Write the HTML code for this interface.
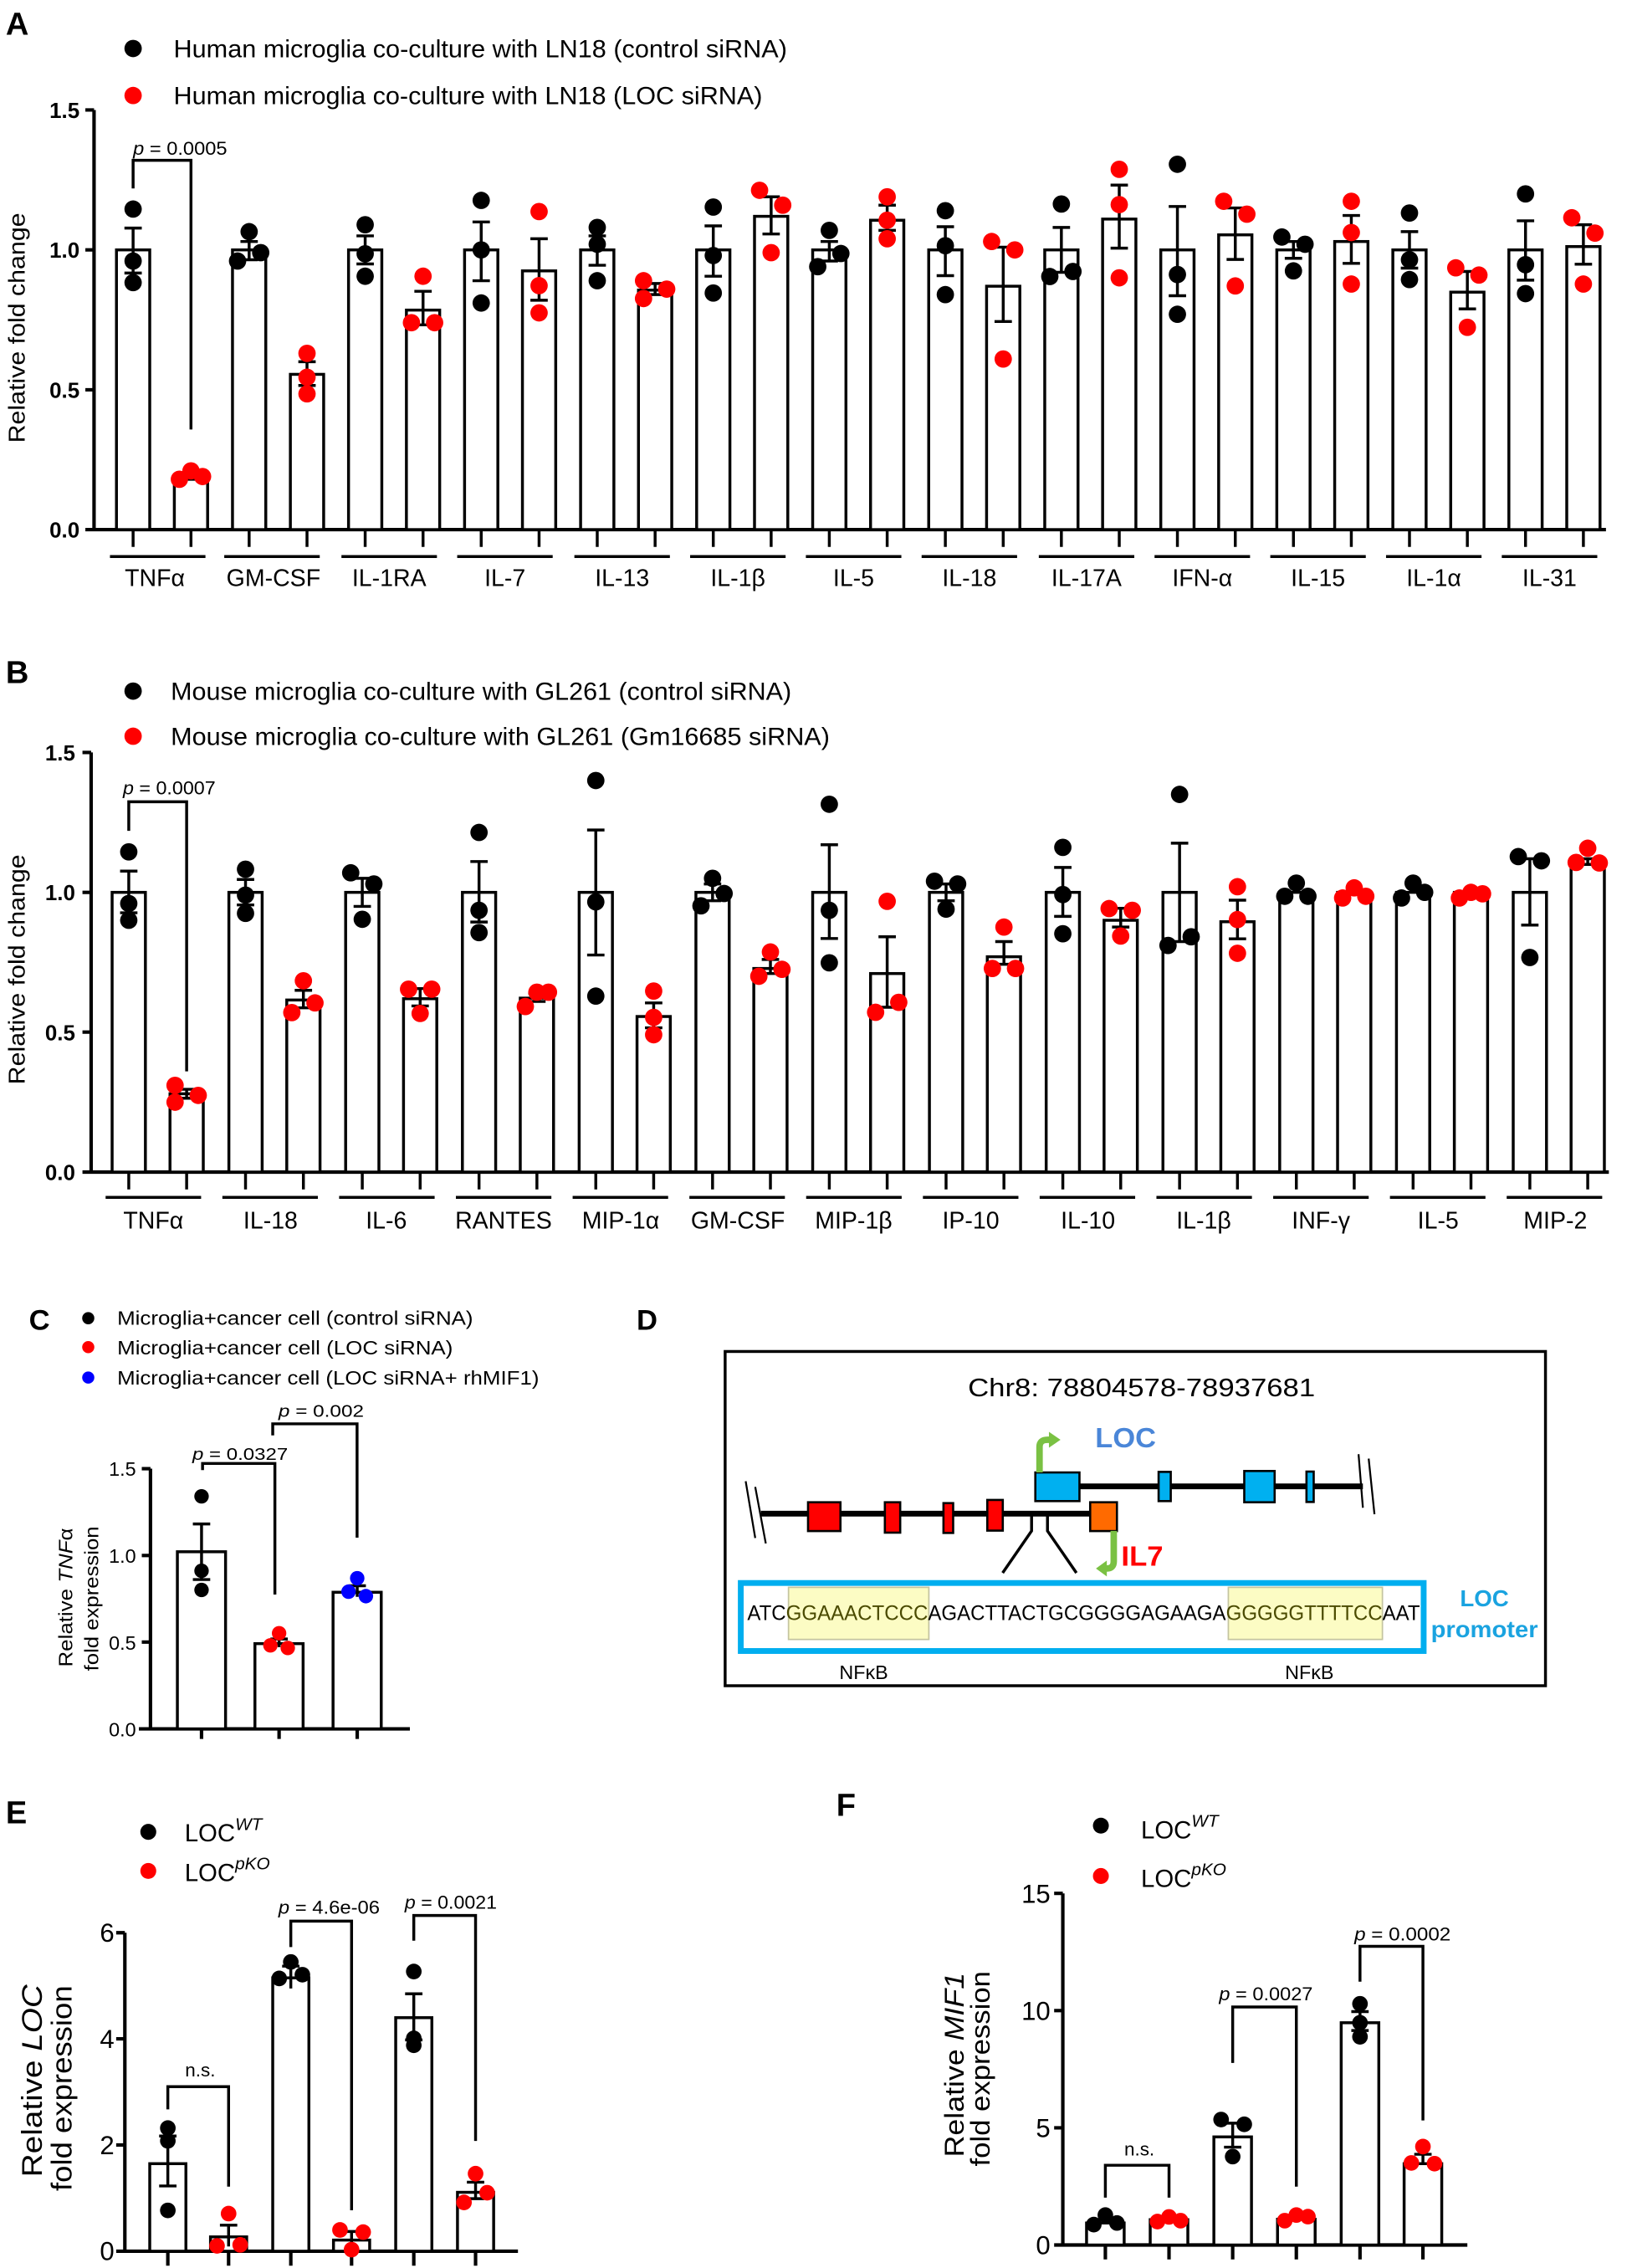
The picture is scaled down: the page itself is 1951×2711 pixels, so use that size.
<!DOCTYPE html>
<html><head><meta charset="utf-8"><style>
html,body{margin:0;padding:0;background:#fff}
svg{display:block}
text{font-family:"Liberation Sans",Arial,sans-serif;fill:#000}
.bar{fill:#fff;stroke:#000;stroke-width:2}
.er{fill:none;stroke:#000;stroke-width:2}
.ax{fill:none;stroke:#000;stroke-width:2.4}
.k{fill:#000}.r{fill:#f00}.bl{fill:#00f}
.tl{font-size:15px;font-weight:bold;text-anchor:end}
.cat{font-size:16.5px;text-anchor:middle}
.pl{font-size:13px;text-anchor:middle}
</style></head><body>
<svg width="1951" height="2711" viewBox="0 0 1128 1567.4" xmlns="http://www.w3.org/2000/svg">
<rect width="1128" height="1567.4" fill="#fff"/>

<!-- ================= A ================= -->
<text x="4" y="24" font-size="22" font-weight="bold">A</text>
<circle cx="92" cy="33.5" r="6" class="k"/>
<text x="120" y="39.5" font-size="17" textLength="424" lengthAdjust="spacingAndGlyphs">Human microglia co-culture with LN18 (control siRNA)</text>
<circle cx="92" cy="66" r="6" class="r"/>
<text x="120" y="72" font-size="17" textLength="407" lengthAdjust="spacingAndGlyphs">Human microglia co-culture with LN18 (LOC siRNA)</text>
<text transform="translate(17,226.6) rotate(-90)" font-size="16" text-anchor="middle" textLength="159" lengthAdjust="spacingAndGlyphs">Relative fold change</text>
<path class="ax" d="M65 76V366H1110M59 76H65M59 172.7H65M59 269.4H65M59 366H65"/>
<text class="tl" x="55" y="81.5">1.5</text><text class="tl" x="55" y="178">1.0</text><text class="tl" x="55" y="275">0.5</text><text class="tl" x="55" y="371.5">0.0</text>
<path class="er" d="M92 366v12M132 366v12M172.2 366v12M212.2 366v12M252.4 366v12M292.4 366v12M332.6 366v12M372.6 366v12M412.8 366v12M452.8 366v12M493 366v12M533 366v12M573.2 366v12M613.2 366v12M653.4 366v12M693.4 366v12M733.6 366v12M773.6 366v12M813.8 366v12M853.8 366v12M894 366v12M934 366v12M974.2 366v12M1014.2 366v12M1054.4 366v12M1094.4 366v12"/>
<g class="bar">
<rect x="80.5" y="172.7" width="23" height="193.3"/><rect x="120.5" y="329.3" width="23" height="36.7"/>
<rect x="160.7" y="172.7" width="23" height="193.3"/><rect x="200.7" y="258.7" width="23" height="107.3"/>
<rect x="240.9" y="172.7" width="23" height="193.3"/><rect x="280.9" y="214.3" width="23" height="151.7"/>
<rect x="321.1" y="172.7" width="23" height="193.3"/><rect x="361.1" y="187.2" width="23" height="178.8"/>
<rect x="401.3" y="172.7" width="23" height="193.3"/><rect x="441.3" y="200.5" width="23" height="165.5"/>
<rect x="481.5" y="172.7" width="23" height="193.3"/><rect x="521.5" y="149.5" width="23" height="216.5"/>
<rect x="561.7" y="172.7" width="23" height="193.3"/><rect x="601.7" y="152.2" width="23" height="213.8"/>
<rect x="641.9" y="172.7" width="23" height="193.3"/><rect x="681.9" y="197.8" width="23" height="168.2"/>
<rect x="722.1" y="172.7" width="23" height="193.3"/><rect x="762.1" y="151.4" width="23" height="214.6"/>
<rect x="802.3" y="172.7" width="23" height="193.3"/><rect x="842.3" y="162.3" width="23" height="203.7"/>
<rect x="882.5" y="172.7" width="23" height="193.3"/><rect x="922.5" y="166.9" width="23" height="199.1"/>
<rect x="962.7" y="172.7" width="23" height="193.3"/><rect x="1002.7" y="201.9" width="23" height="164.1"/>
<rect x="1042.9" y="172.7" width="23" height="193.3"/><rect x="1082.9" y="170.4" width="23" height="195.6"/>
</g>
<path class="er" d="M92 157.6V188.7M86 157.6h12M86 188.7h12
M132 327.3V331.2M126 327.3h12M126 331.2h12
M172.2 166.9V179.5M166.2 166.9h12M166.2 179.5h12
M212.2 250V266.4M206.2 250h12M206.2 266.4h12
M252.4 163V182.4M246.4 163h12M246.4 182.4h12
M292.4 201.3V224.5M286.4 201.3h12M286.4 224.5h12
M332.6 153.4V194M326.6 153.4h12M326.6 194h12
M372.6 165V207.5M366.6 165h12M366.6 207.5h12
M412.8 163V183.3M406.8 163h12M406.8 183.3h12
M452.8 195.9V203.6M446.8 195.9h12M446.8 203.6h12
M493 156.1V190.9M487 156.1h12M487 190.9h12
M533 136V161.7M527 136h12M527 161.7h12
M573.2 166.9V180.4M567.2 166.9h12M567.2 180.4h12
M613.2 141.8V159.2M607.2 141.8h12M607.2 159.2h12
M653.4 156.7V190.5M647.4 156.7h12M647.4 190.5h12
M693.4 170.8V222.2M687.4 170.8h12M687.4 222.2h12
M733.6 157.2V188.2M727.6 157.2h12M727.6 188.2h12
M773.6 127.9V171.5M767.6 127.9h12M767.6 171.5h12
M813.8 142.7V204.4M807.8 142.7h12M807.8 204.4h12
M853.8 143.7V179.3M847.8 143.7h12M847.8 179.3h12
M894 166.9V178.5M888 166.9h12M888 178.5h12
M934 148.9V182M928 148.9h12M928 182h12
M974.2 160.1V185.3M968.2 160.1h12M968.2 185.3h12
M1014.2 187.6V213.5M1008.2 187.6h12M1008.2 213.5h12
M1054.4 152.6V193.6M1048.4 152.6h12M1048.4 193.6h12
M1094.4 155.3V182.6M1088.4 155.3h12M1088.4 182.6h12"/>
<g class="k">
<circle cx="92" cy="144.5" r="6"/><circle cx="92" cy="180.4" r="6"/><circle cx="92" cy="195.3" r="6"/>
<circle cx="164.2" cy="180.4" r="6"/><circle cx="172.2" cy="160.1" r="6"/><circle cx="180.2" cy="174.6" r="6"/>
<circle cx="252.4" cy="155.3" r="6"/><circle cx="252.4" cy="175.4" r="6"/><circle cx="252.4" cy="190.9" r="6"/>
<circle cx="332.6" cy="138.5" r="6"/><circle cx="332.6" cy="172.7" r="6"/><circle cx="332.6" cy="209.4" r="6"/>
<circle cx="412.8" cy="157.2" r="6"/><circle cx="412.8" cy="168.8" r="6"/><circle cx="412.8" cy="194" r="6"/>
<circle cx="493" cy="143.1" r="6"/><circle cx="493" cy="176.6" r="6"/><circle cx="493" cy="202.5" r="6"/>
<circle cx="573.2" cy="159.2" r="6"/><circle cx="581.2" cy="175.2" r="6"/><circle cx="565.2" cy="184.3" r="6"/>
<circle cx="653.4" cy="145.6" r="6"/><circle cx="653.4" cy="169.8" r="6"/><circle cx="653.4" cy="203.6" r="6"/>
<circle cx="733.6" cy="141" r="6"/><circle cx="725.6" cy="191.1" r="6"/><circle cx="741.6" cy="187.6" r="6"/>
<circle cx="813.8" cy="113.5" r="6"/><circle cx="813.8" cy="189.7" r="6"/><circle cx="813.8" cy="217.2" r="6"/>
<circle cx="886" cy="163.8" r="6"/><circle cx="902" cy="168.8" r="6"/><circle cx="894" cy="187.2" r="6"/>
<circle cx="974.2" cy="147.2" r="6"/><circle cx="974.2" cy="179.5" r="6"/><circle cx="974.2" cy="193.2" r="6"/>
<circle cx="1054.4" cy="134" r="6"/><circle cx="1054.4" cy="182.9" r="6"/><circle cx="1054.4" cy="202.9" r="6"/>
</g>
<g class="r">
<circle cx="124" cy="331.2" r="6"/><circle cx="132" cy="325.4" r="6"/><circle cx="140" cy="329.3" r="6"/>
<circle cx="212.2" cy="244.2" r="6"/><circle cx="212.2" cy="260.7" r="6"/><circle cx="212.2" cy="272.2" r="6"/>
<circle cx="292.4" cy="190.9" r="6"/><circle cx="284.4" cy="223" r="6"/><circle cx="300.4" cy="223" r="6"/>
<circle cx="372.6" cy="146.2" r="6"/><circle cx="372.6" cy="197.4" r="6"/><circle cx="372.6" cy="216.2" r="6"/>
<circle cx="444.8" cy="194" r="6"/><circle cx="444.8" cy="206.3" r="6"/><circle cx="460.8" cy="199.8" r="6"/>
<circle cx="525" cy="131.5" r="6"/><circle cx="541" cy="141.8" r="6"/><circle cx="533" cy="174.6" r="6"/>
<circle cx="613.2" cy="136" r="6"/><circle cx="613.2" cy="152.2" r="6"/><circle cx="613.2" cy="165" r="6"/>
<circle cx="685.4" cy="166.9" r="6"/><circle cx="701.4" cy="172.7" r="6"/><circle cx="693.4" cy="248.1" r="6"/>
<circle cx="773.6" cy="117" r="6"/><circle cx="773.6" cy="141.4" r="6"/><circle cx="773.6" cy="192" r="6"/>
<circle cx="845.8" cy="139.1" r="6"/><circle cx="861.8" cy="148" r="6"/><circle cx="853.8" cy="197.6" r="6"/>
<circle cx="934" cy="139.1" r="6"/><circle cx="934" cy="160.7" r="6"/><circle cx="934" cy="196.3" r="6"/>
<circle cx="1006.2" cy="185.1" r="6"/><circle cx="1022.2" cy="190.1" r="6"/><circle cx="1014.2" cy="226.2" r="6"/>
<circle cx="1086.4" cy="150.5" r="6"/><circle cx="1102.4" cy="161.1" r="6"/><circle cx="1094.4" cy="196.3" r="6"/>
</g>
<path class="er" stroke-width="1.6" d="M92 130.2V110.8H132V296.8"/>
<text class="pl" x="124.5" y="107" textLength="65" lengthAdjust="spacingAndGlyphs"><tspan font-style="italic">p</tspan> = 0.0005</text>
<path class="er" stroke-width="2.2" d="M76 384.6H142M155 384.6H221M236 384.6H302M316 384.6H382M397 384.6H463M477 384.6H543M557 384.6H623M637 384.6H703M718 384.6H784M798 384.6H864M878 384.6H944M958 384.6H1024M1038 384.6H1104"/>
<g class="cat">
<text x="107" y="405">TNFα</text><text x="189" y="405">GM-CSF</text><text x="269" y="405">IL-1RA</text><text x="349" y="405">IL-7</text><text x="430" y="405">IL-13</text><text x="510" y="405">IL-1β</text><text x="590" y="405">IL-5</text><text x="670" y="405">IL-18</text><text x="751" y="405">IL-17A</text><text x="831" y="405">IFN-α</text><text x="911" y="405">IL-15</text><text x="991" y="405">IL-1α</text><text x="1071" y="405">IL-31</text>
</g>

<!-- ================= B ================= -->
<text x="4" y="472" font-size="22" font-weight="bold">B</text>
<circle cx="92" cy="477.6" r="6" class="k"/>
<text x="118" y="483.5" font-size="17" textLength="429" lengthAdjust="spacingAndGlyphs">Mouse microglia co-culture with GL261 (control siRNA)</text>
<circle cx="92" cy="508.8" r="6" class="r"/>
<text x="118" y="515" font-size="17" textLength="455.5" lengthAdjust="spacingAndGlyphs">Mouse microglia co-culture with GL261 (Gm16685 siRNA)</text>
<text transform="translate(17,670) rotate(-90)" font-size="16" text-anchor="middle" textLength="159" lengthAdjust="spacingAndGlyphs">Relative fold change</text>
<path class="ax" d="M63 520V810H1112M57 520H63M57 616.7H63M57 713.3H63M57 810H63"/>
<text class="tl" x="52" y="525.5">1.5</text><text class="tl" x="52" y="622">1.0</text><text class="tl" x="52" y="719">0.5</text><text class="tl" x="52" y="815.5">0.0</text>
<path class="er" d="M89 810v12M129 810v12M169.7 810v12M209.7 810v12M250.4 810v12M290.4 810v12M331.1 810v12M371.1 810v12M411.8 810v12M451.8 810v12M492.5 810v12M532.5 810v12M573.2 810v12M613.2 810v12M653.9 810v12M693.9 810v12M734.6 810v12M774.6 810v12M815.3 810v12M855.3 810v12M896 810v12M936 810v12M976.7 810v12M1016.7 810v12M1057.4 810v12M1097.4 810v12"/>
<g class="bar">
<rect x="77.5" y="616.7" width="23" height="193.3"/><rect x="117.5" y="755.9" width="23" height="54.1"/>
<rect x="158.2" y="616.7" width="23" height="193.3"/><rect x="198.2" y="691.1" width="23" height="118.9"/>
<rect x="238.9" y="616.7" width="23" height="193.3"/><rect x="278.9" y="690.2" width="23" height="119.8"/>
<rect x="319.6" y="616.7" width="23" height="193.3"/><rect x="359.6" y="689.8" width="23" height="120.2"/>
<rect x="400.3" y="616.7" width="23" height="193.3"/><rect x="440.3" y="702.5" width="23" height="107.5"/>
<rect x="481" y="616.7" width="23" height="193.3"/><rect x="521" y="669.3" width="23" height="140.7"/>
<rect x="561.7" y="616.7" width="23" height="193.3"/><rect x="601.7" y="672.8" width="23" height="137.2"/>
<rect x="642.4" y="616.7" width="23" height="193.3"/><rect x="682.4" y="661.2" width="23" height="148.8"/>
<rect x="723.1" y="616.7" width="23" height="193.3"/><rect x="763.1" y="636" width="23" height="174"/>
<rect x="803.8" y="616.7" width="23" height="193.3"/><rect x="843.8" y="637" width="23" height="173"/>
<rect x="884.5" y="616.7" width="23" height="193.3"/><rect x="924.5" y="616.7" width="23" height="193.3"/>
<rect x="965.2" y="616.7" width="23" height="193.3"/><rect x="1005.2" y="616.7" width="23" height="193.3"/>
<rect x="1045.9" y="616.7" width="23" height="193.3"/><rect x="1085.9" y="597.4" width="23" height="212.6"/>
</g>
<path class="er" d="M89 602V630.8M83 602h12M83 630.8h12
M129 752.8V759M123 752.8h12M123 759h12
M169.7 607.8V625.4M163.7 607.8h12M163.7 625.4h12
M209.7 684.4V696.5M203.7 684.4h12M203.7 696.5h12
M250.4 607V626.4M244.4 607h12M244.4 626.4h12
M290.4 683.2V695.2M284.4 683.2h12M284.4 695.2h12
M331.1 595.4V637.2M325.1 595.4h12M325.1 637.2h12
M371.1 686.3V692.1M365.1 686.3h12M365.1 692.1h12
M411.8 573.6V660M405.8 573.6h12M405.8 660h12
M451.8 693.1V710.3M445.8 693.1h12M445.8 710.3h12
M492.5 610.9V622.5M486.5 610.9h12M486.5 622.5h12
M532.5 663.1V672.8M526.5 663.1h12M526.5 672.8h12
M573.2 583.8V648.6M567.2 583.8h12M567.2 648.6h12
M613.2 647.4V696.1M607.2 647.4h12M607.2 696.1h12
M653.9 610.9V622.5M647.9 610.9h12M647.9 622.5h12
M693.9 650.7V666.4M687.9 650.7h12M687.9 666.4h12
M734.6 599.5V633.3M728.6 599.5h12M728.6 633.3h12
M774.6 627.7V640.7M768.6 627.7h12M768.6 640.7h12
M815.3 582.7V650.7M809.3 582.7h12M809.3 650.7h12
M855.3 622.1V648.8M849.3 622.1h12M849.3 648.8h12
M1057.4 593.5V639.3M1051.4 593.5h12M1051.4 639.3h12
M1097.4 593.5V597.4M1091.4 593.5h12"/>
<g class="k">
<circle cx="89" cy="588.7" r="6"/><circle cx="89" cy="624.4" r="6"/><circle cx="89" cy="636" r="6"/>
<circle cx="169.7" cy="600.7" r="6"/><circle cx="169.7" cy="618.6" r="6"/><circle cx="169.7" cy="631.2" r="6"/>
<circle cx="242.4" cy="603.2" r="6"/><circle cx="258.4" cy="610.9" r="6"/><circle cx="250.4" cy="635.3" r="6"/>
<circle cx="331.1" cy="575.3" r="6"/><circle cx="331.1" cy="629.1" r="6"/><circle cx="331.1" cy="644.5" r="6"/>
<circle cx="411.8" cy="539.4" r="6"/><circle cx="411.8" cy="623.3" r="6"/><circle cx="411.8" cy="688.4" r="6"/>
<circle cx="484.5" cy="626" r="6"/><circle cx="492.5" cy="607" r="6"/><circle cx="500.5" cy="617.5" r="6"/>
<circle cx="573.2" cy="555.8" r="6"/><circle cx="573.2" cy="629.1" r="6"/><circle cx="573.2" cy="665.4" r="6"/>
<circle cx="645.9" cy="609" r="6"/><circle cx="661.9" cy="610.9" r="6"/><circle cx="653.9" cy="628.3" r="6"/>
<circle cx="734.6" cy="585.6" r="6"/><circle cx="734.6" cy="618.2" r="6"/><circle cx="734.6" cy="645.3" r="6"/>
<circle cx="815.3" cy="549" r="6"/><circle cx="807.3" cy="653.4" r="6"/><circle cx="823.3" cy="647.4" r="6"/>
<circle cx="888" cy="619.4" r="6"/><circle cx="896" cy="610.3" r="6"/><circle cx="904" cy="619.4" r="6"/>
<circle cx="968.7" cy="620.6" r="6"/><circle cx="976.7" cy="610.3" r="6"/><circle cx="984.7" cy="616.7" r="6"/>
<circle cx="1049.4" cy="592" r="6"/><circle cx="1065.4" cy="594.9" r="6"/><circle cx="1057.4" cy="661.7" r="6"/>
</g>
<g class="r">
<circle cx="121" cy="750.1" r="6"/><circle cx="121" cy="761.7" r="6"/><circle cx="137" cy="757" r="6"/>
<circle cx="209.7" cy="677.8" r="6"/><circle cx="201.7" cy="699.8" r="6"/><circle cx="217.7" cy="693.1" r="6"/>
<circle cx="282.4" cy="683.6" r="6"/><circle cx="298.4" cy="683.6" r="6"/><circle cx="290.4" cy="700.4" r="6"/>
<circle cx="363.1" cy="695.6" r="6"/><circle cx="371.1" cy="685.7" r="6"/><circle cx="379.1" cy="685.7" r="6"/>
<circle cx="451.8" cy="684.9" r="6"/><circle cx="451.8" cy="703.1" r="6"/><circle cx="451.8" cy="715.1" r="6"/>
<circle cx="532.5" cy="657.9" r="6"/><circle cx="524.5" cy="674.7" r="6"/><circle cx="540.5" cy="669.9" r="6"/>
<circle cx="613.2" cy="622.9" r="6"/><circle cx="621.2" cy="692.7" r="6"/><circle cx="605.2" cy="699.6" r="6"/>
<circle cx="693.9" cy="640.7" r="6"/><circle cx="685.9" cy="669.3" r="6"/><circle cx="701.9" cy="669.3" r="6"/>
<circle cx="766.6" cy="627.9" r="6"/><circle cx="782.6" cy="629.1" r="6"/><circle cx="774.6" cy="646.9" r="6"/>
<circle cx="855.3" cy="612.8" r="6"/><circle cx="855.3" cy="635.5" r="6"/><circle cx="855.3" cy="658.8" r="6"/>
<circle cx="928" cy="620.6" r="6"/><circle cx="936" cy="613.6" r="6"/><circle cx="944" cy="619.4" r="6"/>
<circle cx="1008.7" cy="620.6" r="6"/><circle cx="1016.7" cy="616.7" r="6"/><circle cx="1024.7" cy="617.7" r="6"/>
<circle cx="1097.4" cy="586.2" r="6"/><circle cx="1089.4" cy="596" r="6"/><circle cx="1105.4" cy="596.4" r="6"/>
</g>
<path class="er" stroke-width="1.6" d="M89 574.2V554.1H129V740.4"/>
<text class="pl" x="117" y="549" textLength="64" lengthAdjust="spacingAndGlyphs"><tspan font-style="italic">p</tspan> = 0.0007</text>
<path class="er" stroke-width="2.2" d="M73 827.5H139M153.7 827.5H219.7M234.4 827.5H300.4M315.1 827.5H381.1M395.8 827.5H461.8M476.5 827.5H542.5M557.2 827.5H623.2M637.9 827.5H703.9M718.6 827.5H784.6M799.3 827.5H865.3M880 827.5H946M960.7 827.5H1026.7M1041.4 827.5H1107.4"/>
<g class="cat">
<text x="106" y="849">TNFα</text><text x="187" y="849">IL-18</text><text x="267" y="849">IL-6</text><text x="348" y="849">RANTES</text><text x="429" y="849">MIP-1α</text><text x="510" y="849">GM-CSF</text><text x="590" y="849">MIP-1β</text><text x="671" y="849">IP-10</text><text x="752" y="849">IL-10</text><text x="832" y="849">IL-1β</text><text x="913" y="849">INF-γ</text><text x="994" y="849">IL-5</text><text x="1075" y="849">MIP-2</text>
</g>

<!-- ================= C ================= -->
<text x="20" y="919" font-size="20" font-weight="bold">C</text>
<circle cx="61" cy="911" r="4.2" class="k"/>
<text x="81" y="915.5" font-size="13.5" textLength="246" lengthAdjust="spacingAndGlyphs">Microglia+cancer cell (control siRNA)</text>
<circle cx="61" cy="931" r="4.2" class="r"/>
<text x="81" y="936" font-size="13.5" textLength="232" lengthAdjust="spacingAndGlyphs">Microglia+cancer cell (LOC siRNA)</text>
<circle cx="61" cy="952" r="4.2" class="bl"/>
<text x="81" y="957" font-size="13.5" textLength="291.6" lengthAdjust="spacingAndGlyphs">Microglia+cancer cell (LOC siRNA+ rhMIF1)</text>
<text transform="translate(50,1104) rotate(-90)" font-size="13.5" text-anchor="middle" textLength="96" lengthAdjust="spacingAndGlyphs">Relative <tspan font-style="italic">TNF</tspan>α</text>
<text transform="translate(68,1104.8) rotate(-90)" font-size="13.5" text-anchor="middle" textLength="100" lengthAdjust="spacingAndGlyphs">fold expression</text>
<path class="ax" stroke-width="2" d="M104 1015V1194.8H283.3M98 1015H104M98 1075H104M98 1134.8H104M96 1194.8H104M139.3 1194.8v7M192.9 1194.8v7M246.9 1194.8v7"/>
<g font-size="13.5" text-anchor="end"><text x="94" y="1020">1.5</text><text x="94" y="1080">1.0</text><text x="94" y="1140">0.5</text><text x="94" y="1200">0.0</text></g>
<g class="bar"><rect x="122.6" y="1072.4" width="33.3" height="122.4"/><rect x="176.2" y="1135.9" width="33.3" height="58.9"/><rect x="230.2" y="1100.4" width="33.3" height="94.4"/></g>
<path class="er" d="M139.3 1053.2V1091.6M133.3 1053.2h12M133.3 1091.6h12M192.9 1132.7V1138.3M186.9 1132.7h12M246.9 1095.9V1103.6M240.9 1095.9h12"/>
<g class="k"><circle cx="139.3" cy="1034.1" r="5"/><circle cx="139.3" cy="1085.6" r="5"/><circle cx="139.3" cy="1098.8" r="5"/></g>
<g class="r"><circle cx="192.9" cy="1128.7" r="5"/><circle cx="186.9" cy="1137.1" r="5"/><circle cx="198.9" cy="1138.9" r="5"/></g>
<g class="bl"><circle cx="246.9" cy="1090.7" r="5"/><circle cx="240.9" cy="1100" r="5"/><circle cx="252.9" cy="1103.1" r="5"/></g>
<path class="er" stroke-width="1.6" d="M140 1016V1011.4H190V1102M188.5 992V984H246.8V1062.7"/>
<text x="166" y="1009" font-size="11.5" text-anchor="middle" textLength="66" lengthAdjust="spacingAndGlyphs"><tspan font-style="italic">p</tspan> = 0.0327</text>
<text x="222" y="979" font-size="11.5" text-anchor="middle" textLength="59" lengthAdjust="spacingAndGlyphs"><tspan font-style="italic">p</tspan> = 0.002</text>

<!-- ================= D ================= -->
<text x="440" y="919" font-size="20" font-weight="bold">D</text>
<rect x="501.2" y="934" width="567" height="231" fill="none" stroke="#000" stroke-width="2"/>
<text x="789" y="965" font-size="17.5" text-anchor="middle" textLength="240" lengthAdjust="spacingAndGlyphs">Chr8: 78804578-78937681</text>
<path d="M526 1046.1H754" stroke="#000" stroke-width="4"/>
<path d="M746 1027.2H942" stroke="#000" stroke-width="4"/>
<g stroke="#000" stroke-width="1.5">
<rect x="558.5" y="1038.2" width="22.4" height="19.9" fill="#f00"/>
<rect x="611.6" y="1038.2" width="10.6" height="21" fill="#f00"/>
<rect x="652.1" y="1038.8" width="6.7" height="20.6" fill="#f00"/>
<rect x="682.4" y="1036.6" width="10.7" height="21.2" fill="#f00"/>
<rect x="753.5" y="1038.2" width="18.5" height="19.9" fill="#ff6a00"/>
<rect x="715.6" y="1017.6" width="30.5" height="19.8" fill="#00b0f0"/>
<rect x="800.8" y="1017.2" width="8.4" height="20.2" fill="#00b0f0"/>
<rect x="860" y="1016.6" width="21" height="21.6" fill="#00b0f0"/>
<rect x="903" y="1017" width="5" height="21" fill="#00b0f0"/>
</g>
<path d="M515.4 1023.7L522 1062.9M522 1027.6L529.3 1066.7M939 1005L942 1042M946 1008L950 1046.5" stroke="#000" stroke-width="1.3"/>
<path d="M713 1047V1058L693 1087M724 1047V1058L744 1087" fill="none" stroke="#000" stroke-width="2"/>
<path d="M718.5 1017.6V1000Q718.5 995 724 995H727" fill="none" stroke="#7ac143" stroke-width="4.5"/>
<path d="M725 989.5L733 995L725 1000.5Z" fill="#7ac143"/>
<path d="M769.8 1058V1079Q769.8 1084 765 1084H763" fill="none" stroke="#7ac143" stroke-width="4.5"/>
<path d="M765 1078.5L757.5 1084L765 1089.5Z" fill="#7ac143"/>
<text x="757" y="1000.2" font-size="19.5" font-weight="bold" fill="#4a86d8" style="fill:#4a86d8" textLength="42" lengthAdjust="spacingAndGlyphs">LOC</text>
<text x="775" y="1082.1" font-size="19.5" font-weight="bold" style="fill:#f00" textLength="29" lengthAdjust="spacingAndGlyphs">IL7</text>
<rect x="512" y="1094" width="472" height="47" fill="none" stroke="#00aeef" stroke-width="4"/>
<rect x="545" y="1097" width="97" height="36" fill="#fcfcc4" stroke="#c4c4a0" stroke-width="1"/>
<rect x="849" y="1097" width="106.5" height="36" fill="#fcfcc4" stroke="#c4c4a0" stroke-width="1"/>
<text x="516.5" y="1119.7" font-size="14.7" textLength="465" lengthAdjust="spacingAndGlyphs">ATC<tspan style="fill:#4a4a00">GGAAACTCCC</tspan>AGACTTACTGCGGGGAGAAGA<tspan style="fill:#4a4a00">GGGGGTTTTCC</tspan>AAT</text>
<text x="1026" y="1110" font-size="16" font-weight="bold" text-anchor="middle" style="fill:#1aa3e0">LOC</text>
<text x="1026" y="1131.5" font-size="16" font-weight="bold" text-anchor="middle" style="fill:#1aa3e0" textLength="74" lengthAdjust="spacingAndGlyphs">promoter</text>
<text x="597" y="1160.5" font-size="13.5" text-anchor="middle">NFκB</text>
<text x="905" y="1160.5" font-size="13.5" text-anchor="middle">NFκB</text>

<!-- ================= E ================= -->
<text x="4" y="1260" font-size="22" font-weight="bold">E</text>
<circle cx="102.5" cy="1266" r="5.5" class="k"/>
<text x="127.6" y="1272.6" font-size="17">LOC<tspan font-size="12" font-style="italic" dy="-8">WT</tspan></text>
<circle cx="102.5" cy="1293" r="5.5" class="r"/>
<text x="127.6" y="1300" font-size="17">LOC<tspan font-size="12" font-style="italic" dy="-8">pKO</tspan></text>
<text transform="translate(29,1438) rotate(-90)" font-size="20" text-anchor="middle" textLength="133" lengthAdjust="spacingAndGlyphs">Relative <tspan font-style="italic">LOC</tspan></text>
<text transform="translate(49.5,1443.2) rotate(-90)" font-size="20" text-anchor="middle" textLength="142" lengthAdjust="spacingAndGlyphs">fold expression</text>
<path class="ax" stroke-width="2" d="M86.3 1335.7V1555.8H358M80.3 1335.7H86.3M80.3 1409H86.3M80.3 1482.4H86.3M80.3 1555.8H86.3M116 1555.8v10M158 1555.8v10M201 1555.8v10M243 1555.8v10M286 1555.8v10M328.7 1555.8v10"/>
<g font-size="18" text-anchor="end"><text x="79" y="1342">6</text><text x="79" y="1415.3">4</text><text x="79" y="1488.7">2</text><text x="79" y="1562">0</text></g>
<g class="bar"><rect x="103.5" y="1495.3" width="25" height="60.5"/><rect x="145.5" y="1545.9" width="25" height="9.9"/><rect x="188.5" y="1366.9" width="25" height="188.9"/><rect x="230.5" y="1548.1" width="25" height="7.7"/><rect x="273.5" y="1394.4" width="25" height="161.4"/><rect x="316.2" y="1515.1" width="25" height="40.7"/></g>
<path class="er" d="M116 1476.2V1510.7M110 1476.2h12M110 1510.7h12M158 1537.8V1552.5M152 1537.8h12M201 1358.8V1374.2M195 1358.8h12M243 1542.2V1550.3M237 1542.2h12M286 1377.9V1409.8M280 1377.9h12M280 1409.8h12M328.7 1508.1V1519.5M322.7 1508.1h12M322.7 1519.5h12"/>
<g class="k"><circle cx="116" cy="1470.7" r="5.4"/><circle cx="116" cy="1479.5" r="5.4"/><circle cx="116" cy="1527.6" r="5.4"/><circle cx="201" cy="1355.9" r="5.4"/><circle cx="193" cy="1367.3" r="5.4"/><circle cx="209" cy="1364.7" r="5.4"/><circle cx="286" cy="1362.5" r="5.4"/><circle cx="286" cy="1408.7" r="5.4"/><circle cx="286" cy="1413.5" r="5.4"/></g>
<g class="r"><circle cx="158" cy="1529.8" r="5.4"/><circle cx="150" cy="1552.1" r="5.4"/><circle cx="166" cy="1551.4" r="5.4"/><circle cx="235" cy="1541.1" r="5.4"/><circle cx="251" cy="1542.6" r="5.4"/><circle cx="243" cy="1554.7" r="5.4"/><circle cx="328.7" cy="1502.2" r="5.4"/><circle cx="336.7" cy="1515.4" r="5.4"/><circle cx="320.7" cy="1522.1" r="5.4"/></g>
<path class="er" stroke-width="1.6" d="M116 1457.8V1442.1H158V1511.2M201 1345.6V1327.7H243V1527.5M286 1341.2V1323.8H328.7V1479.6"/>
<text x="138.4" y="1435" font-size="13" text-anchor="middle">n.s.</text>
<text x="227.5" y="1322.5" font-size="13" text-anchor="middle" textLength="70" lengthAdjust="spacingAndGlyphs"><tspan font-style="italic">p</tspan> = 4.6e-06</text>
<text x="311.6" y="1319" font-size="13" text-anchor="middle" textLength="63.6" lengthAdjust="spacingAndGlyphs"><tspan font-style="italic">p</tspan> = 0.0021</text>

<!-- ================= F ================= -->
<text x="578" y="1255" font-size="22" font-weight="bold">F</text>
<circle cx="760.9" cy="1261.7" r="5.5" class="k"/>
<text x="788.6" y="1270.4" font-size="17">LOC<tspan font-size="12" font-style="italic" dy="-8">WT</tspan></text>
<circle cx="760.9" cy="1296.5" r="5.5" class="r"/>
<text x="788.6" y="1304.1" font-size="17">LOC<tspan font-size="12" font-style="italic" dy="-8">pKO</tspan></text>
<text transform="translate(666,1427) rotate(-90)" font-size="19" text-anchor="middle" textLength="127.5" lengthAdjust="spacingAndGlyphs">Relative <tspan font-style="italic">MIF1</tspan></text>
<text transform="translate(684,1429.7) rotate(-90)" font-size="19" text-anchor="middle" textLength="135" lengthAdjust="spacingAndGlyphs">fold expression</text>
<path class="ax" stroke-width="2" d="M734.6 1308.5V1551.5H1014.2M728.6 1308.5H734.6M728.6 1389.5H734.6M728.6 1470.5H734.6M728.6 1551.5H734.6M764 1551.5v10M808 1551.5v10M852 1551.5v10M896 1551.5v10M940 1551.5v10M983.5 1551.5v10"/>
<g font-size="18" text-anchor="end"><text x="726" y="1315">15</text><text x="726" y="1396">10</text><text x="726" y="1477">5</text><text x="726" y="1558">0</text></g>
<g class="bar"><rect x="751" y="1536.3" width="26" height="15.2"/><rect x="795" y="1534" width="26" height="17.5"/><rect x="839" y="1476.8" width="26" height="74.7"/><rect x="883" y="1533.7" width="26" height="17.8"/><rect x="927" y="1397.9" width="26" height="153.6"/><rect x="970.5" y="1495.3" width="26" height="56.2"/></g>
<path class="er" d="M852 1467.3V1483.9M846 1467.3h12M846 1483.9h12M940 1390.2V1403.3M934 1390.2h12M934 1403.3h12M983.5 1488.8V1495.9M977.5 1488.8h12"/>
<g class="k"><circle cx="764" cy="1530.8" r="5.4"/><circle cx="756" cy="1537.4" r="5.4"/><circle cx="772" cy="1536.3" r="5.4"/><circle cx="844" cy="1464.8" r="5.4"/><circle cx="860" cy="1468.1" r="5.4"/><circle cx="852" cy="1490.4" r="5.4"/><circle cx="940" cy="1384.8" r="5.4"/><circle cx="940" cy="1397.9" r="5.4"/><circle cx="940" cy="1407.6" r="5.4"/></g>
<g class="r"><circle cx="800" cy="1535.3" r="5.4"/><circle cx="808" cy="1532.1" r="5.4"/><circle cx="816" cy="1534.7" r="5.4"/><circle cx="888" cy="1534.7" r="5.4"/><circle cx="896" cy="1530.8" r="5.4"/><circle cx="904" cy="1531.9" r="5.4"/><circle cx="983.5" cy="1483.5" r="5.4"/><circle cx="975.5" cy="1494.8" r="5.4"/><circle cx="991.5" cy="1495.3" r="5.4"/></g>
<path class="er" stroke-width="1.6" d="M764 1518.8V1496.4H808V1518.8M852 1425.7V1387H896V1511.2M940 1369.5V1345.1H983.5V1465.4"/>
<text x="787.5" y="1489.5" font-size="13" text-anchor="middle">n.s.</text>
<text x="875" y="1382.5" font-size="13" text-anchor="middle" textLength="64.8" lengthAdjust="spacingAndGlyphs"><tspan font-style="italic">p</tspan> = 0.0027</text>
<text x="969.4" y="1341" font-size="13" text-anchor="middle" textLength="66.6" lengthAdjust="spacingAndGlyphs"><tspan font-style="italic">p</tspan> = 0.0002</text>
</svg>
</body></html>
